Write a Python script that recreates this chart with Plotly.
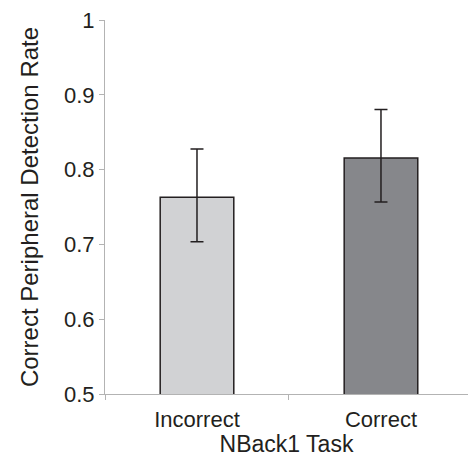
import plotly.graph_objects as go

categories = ["Incorrect", "Correct"]
values = [0.763, 0.8155]
err_plus = [0.0645, 0.065]
err_minus = [0.0595, 0.0588]
bar_colors = ["#d1d2d4", "#86878b"]
y_ticks = [0.5, 0.6, 0.7, 0.8, 0.9, 1.0]
y_tick_text = ["0.5", "0.6", "0.7", "0.8", "0.9", "1"]

fig = go.Figure()
fig.add_trace(go.Bar(
    x=categories, y=values,
    marker=dict(color=bar_colors, line=dict(color="#231f20", width=1.5)),
    width=0.4,
    error_y=dict(type="data", symmetric=False, array=err_plus, arrayminus=err_minus,
                 color="#231f20", thickness=1.5, width=6.5),
))

font_family = "Liberation Sans, Arial, sans-serif"
fig.update_layout(
    width=468, height=460,
    margin=dict(l=105, r=0, t=20, b=66),
    paper_bgcolor="white", plot_bgcolor="white",
    showlegend=False,
    font=dict(family=font_family, size=22, color="#231f20"),
)
fig.update_xaxes(
    range=[-0.5, 1.473],
    showline=True, linecolor="#b3b3b3", linewidth=1.2,
    ticks="outside", tickson="boundaries", ticklen=5, tickcolor="#b3b3b3",
    showgrid=False, zeroline=False,
    tickfont=dict(size=22), ticklabelstandoff=5,
    title=dict(text="NBack1 Task", font=dict(size=23), standoff=5),
)
fig.update_yaxes(
    range=[0.5, 1.0],
    tickvals=y_ticks, ticktext=y_tick_text,
    showline=True, linecolor="#b3b3b3", linewidth=1.2,
    ticks="outside", ticklen=5, tickcolor="#b3b3b3",
    showgrid=False, zeroline=False,
    tickfont=dict(size=22),
    title=dict(text="Correct Peripheral Detection Rate", font=dict(size=24), standoff=18),
)

fig.write_html("out.html")
